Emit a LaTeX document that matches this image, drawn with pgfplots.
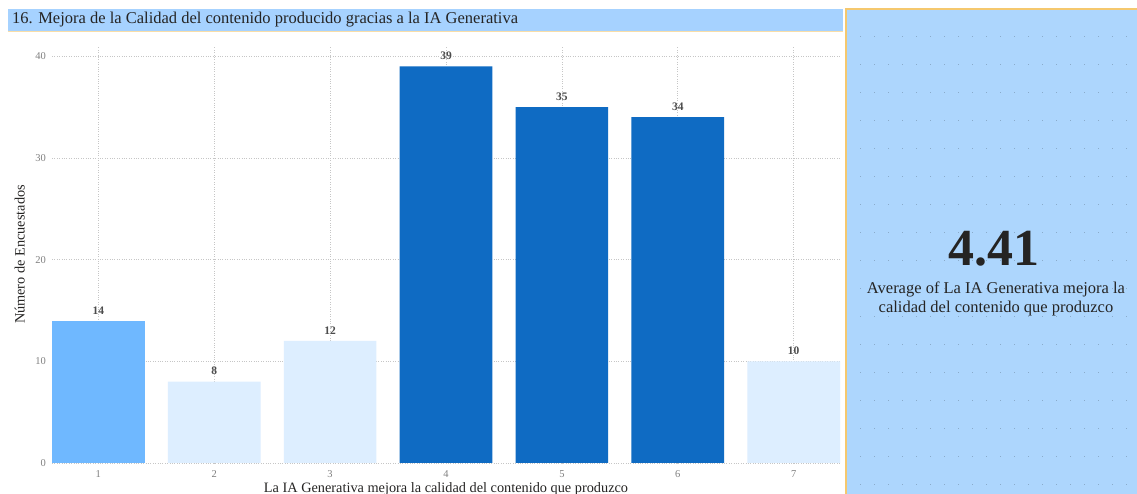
\documentclass[border=0pt]{standalone}
\usepackage{pgfplots}
\pgfplotsset{compat=1.18}
\usepackage{fontspec}
\setmainfont{Liberation Serif}
\definecolor{barmid}{HTML}{6FB8FF}
\definecolor{barlight}{HTML}{DDEEFF}
\definecolor{bardark}{HTML}{0F6BC3}
\definecolor{titlebar}{HTML}{A6D2FF}
\definecolor{card}{HTML}{ADD6FD}
\definecolor{cardborder}{HTML}{F5C86E}
\definecolor{txt}{HTML}{252423}
\begin{document}
\begin{tikzpicture}[x=1pt,y=1pt]
\path[use as bounding box, fill=white] (0,0) rectangle (1137,494);
% title bar
\fill[titlebar] (8,463) rectangle (843,485);
\draw[cardborder!60, line width=0.6pt] (8,463) -- (843,463);
\node[anchor=west, font=\fontsize{16.5}{19}\selectfont, text=txt, inner sep=0pt] at (12,474) {16. Mejora de la Calidad del contenido producido gracias a la IA Generativa};
% card
\fill[card] (845,0) rectangle (1137,485);
\foreach \yy in {10,38,...,480} {\draw[card!80!black, line width=0.6pt, dash pattern=on 0.6pt off 13.4pt] (860,\yy) -- (1137,\yy);}
\draw[cardborder, line width=2.5pt] (846.2,0) -- (846.2,484.8) -- (1137,484.8);
\node[font=\bfseries\fontsize{52}{58}\selectfont, text=txt, inner sep=0pt] at (994,245) {4.41};
\node[align=center, font=\fontsize{16.5}{19}\selectfont, text=txt, inner sep=0pt] at (996,195) {Average of La IA Generativa mejora la\\calidad del contenido que produzco};
\begin{axis}[
  at={(52pt,31pt)}, anchor=south west,
  scale only axis, width=788pt, height=417pt,
  xmin=0.6, xmax=7.4, ymin=0, ymax=41,
  xtick={1,...,7}, ytick={0,10,20,30,40},
  grid=major, major grid style={gray!45, dotted, line width=0.6pt},
  axis line style={draw=none}, tick style={draw=none},
  /pgf/number format/assume math mode=true,
  ticklabel style={font=\fontsize{10.5}{12}\selectfont, text=gray},
  yticklabel style={xshift=-2.5pt},
  ylabel={Número de Encuestados},
  xlabel={La IA Generativa mejora la calidad del contenido que produzco},
  label style={font=\fontsize{14.3}{16}\selectfont, text=txt},
  ylabel style={at={(axis description cs:-0.041,0.5)}, anchor=center},
  xlabel style={at={(axis description cs:0.5,-0.062)}, anchor=center},
  ybar, bar width=0.8, bar shift=0pt,
  nodes near coords,
  every node near coord/.append style={font=\bfseries\fontsize{11.5}{13}\selectfont, text=black!70, yshift=3pt},
]
\addplot[fill=barmid, draw=none] coordinates {(1,14)};
\addplot[fill=barlight, draw=none] coordinates {(2,8) (3,12) (7,10)};
\addplot[fill=bardark, draw=none] coordinates {(4,39) (5,35) (6,34)};
\end{axis}
\end{tikzpicture}
\end{document}
